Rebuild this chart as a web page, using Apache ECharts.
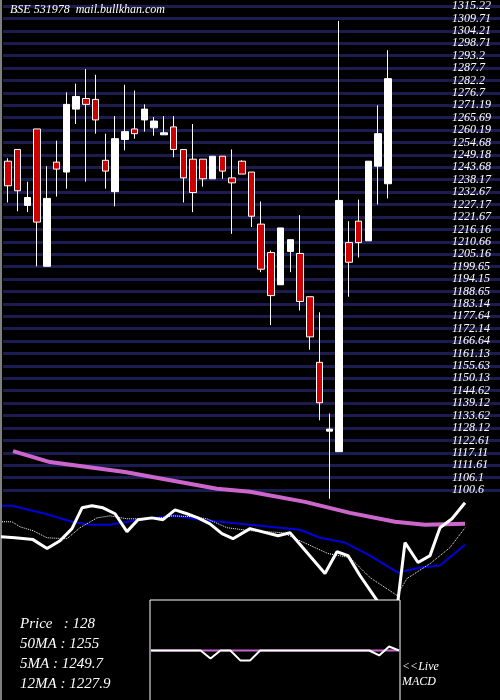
<!DOCTYPE html>
<html><head><meta charset="utf-8">
<script src="https://cdn.jsdelivr.net/npm/echarts@6/dist/echarts.min.js"></script>
<style>html,body{margin:0;padding:0;background:#000}#c{width:500px;height:700px}</style>
</head><body><div id="c"></div>
<script>
// candles: [open, close, low, high]
const candles = [
[1246.4,1235.5,1228.1,1247.7],[1251.6,1233.3,1224.2,1251.6],[1226.8,1230.3,1223.8,1237.3],
[1260.7,1219.4,1199.8,1260.7],[1199.8,1229.9,1199.8,1244.2],[1246.0,1242.9,1230.7,1255.5],
[1241.6,1271.6,1234.2,1276.9],[1269.5,1275.1,1262.9,1280.8],[1274.2,1271.6,1237.3,1287.3],
[1273.8,1264.7,1258.6,1284.7],[1246.8,1242.0,1234.2,1258.6],[1232.9,1256.4,1226.4,1266.4],
[1256.0,1259.5,1251.2,1280.3],[1260.7,1258.6,1256.4,1277.7],[1264.7,1269.5,1259.5,1271.6],
[1261.2,1264.2,1257.7,1266.0],[1258.1,1259.0,1258.1,1266.4],[1261.6,1251.6,1248.1,1266.4],
[1251.6,1239.0,1228.1,1251.6],[1247.3,1232.5,1223.8,1262.9],[1247.3,1238.6,1235.1,1247.3],
[1238.6,1248.6,1238.6,1248.6],[1248.6,1242.0,1238.6,1248.6],[1239.0,1236.8,1214.2,1251.6],
[1246.4,1240.7,1240.7,1246.8],[1241.6,1222.0,1217.2,1241.6],[1218.5,1198.5,1197.2,1228.5],
[1205.9,1186.8,1173.7,1206.8],[1191.6,1216.8,1191.6,1216.8],[1206.4,1211.6,1197.2,1211.6],
[1205.5,1184.2,1180.2,1222.5],[1186.3,1168.5,1162.8,1186.3],[1157.2,1139.3,1131.5,1179.4],
[1126.7,1127.6,1096.7,1134.5],[1117.6,1229.0,1117.6,1308.6],[1210.3,1201.6,1186.3,1219.8],
[1219.8,1210.3,1203.7,1229.4],[1211.1,1246.4,1211.1,1246.4],[1244.2,1258.6,1227.2,1271.2],
[1236.4,1283.0,1229.9,1295.6]
];
const categories = Array.from({length:51},(_,i)=>String(i+1));
const priceLine = [[-0.81,1080.6],[0.73,1080.1],[2.58,1079.3],[4.02,1075.4],[5.35,1078.8],[6.58,1084.1],[7.61,1093.2],[8.63,1094.1],[9.76,1093.2],[11.0,1090.6],[12.22,1082.8],[13.35,1088.0],[14.79,1088.8],[15.92,1088.0],[17.15,1092.3],[18.38,1090.6],[19.51,1088.8],[20.74,1086.2],[21.97,1081.9],[23.10,1079.7],[24.85,1084.1],[27.72,1081.0],[28.95,1082.3],[32.54,1064.5],[33.77,1074.0],[34.90,1072.3],[36.13,1063.6],[37.88,1052.7],[39.21,1046.2],[40.03,1052.7],[40.75,1078.0],[42.09,1069.3],[43.32,1072.3],[44.34,1084.5],[45.57,1088.4],[46.91,1095.4]];
const dottedLine = [[-0.81,1087.1],[0.42,1087.1],[1.24,1084.9],[2.58,1083.2],[4.02,1080.1],[6.07,1079.7],[7.40,1084.5],[9.15,1088.8],[10.48,1089.7],[12.22,1088.4],[13.56,1088.4],[15.61,1088.8],[16.94,1089.7],[19.0,1089.3],[20.43,1088.4],[22.49,1084.5],[24.85,1083.2],[28.23,1082.3],[29.98,1078.8],[32.85,1073.2],[35.11,1071.4],[37.16,1062.7],[39.93,1054.9],[40.96,1062.3],[43.32,1068.8],[45.37,1075.8],[46.91,1084.5]];
const blueLine = [[-0.81,1094.1],[0.42,1094.1],[3.81,1090.6],[6.58,1087.1],[8.43,1085.8],[10.48,1085.8],[14.07,1088.4],[17.15,1089.7],[19.72,1088.0],[24.85,1085.8],[29.98,1083.6],[32.03,1080.1],[34.59,1078.0],[37.16,1072.3],[40.03,1064.9],[42.29,1067.1],[44.34,1068.0],[46.91,1077.1]];
const pinkLine = [[0.53,1118.0],[4.32,1113.2],[12.02,1108.9],[21.46,1101.5],[24.85,1100.2],[30.49,1095.8],[35.11,1091.0],[39.73,1087.1],[42.8,1085.8],[46.91,1086.2]];
const macdLine = [0,0,0,0,0,0,-8,0,0,-10,-10,0,0,0,0,0,0,0,0,0,0,0,0,-5,4,0];
const macdSignal = [0,0,0,0,0,0,0,0,0,0,0,0,0,0,0,0,0,0,0,0,0,0,0,0,0,0];
const infoLines = ['Price   : 128','50MA : 1255','5MA : 1249.7','12MA : 1227.9'];

const serif = "'Liberation Serif','DejaVu Serif',serif";
const fmt = v => String(+v.toFixed(2));
const chart = echarts.init(document.getElementById('c'));
chart.setOption({
  backgroundColor:'#000',
  animation:false,
  grid:[
    {left:3,right:0,top:-3,bottom:210},
    {left:3,right:0,top:-3,bottom:0},
    {left:151,width:248,top:601,height:99}
  ],
  xAxis:[
    {type:'category',data:categories,gridIndex:0,show:false,boundaryGap:true},
    {type:'value',gridIndex:1,min:-0.5,max:50.5,show:false},
    {type:'category',gridIndex:2,data:macdLine.map((_,i)=>i),show:false,boundaryGap:false}
  ],
  yAxis:[
    {type:'value',gridIndex:0,position:'right',min:1100.6,max:1315.217,interval:5.503,
     axisLine:{show:false},axisTick:{show:false},
     splitLine:{show:true,lineStyle:{color:'#1c1c50',width:3}},
     axisLabel:{inside:true,align:'left',margin:48,color:'#fff',fontFamily:serif,fontStyle:'italic',fontSize:12,formatter:fmt,showMaxLabel:true}},
    {type:'value',gridIndex:1,min:1009.18,max:1315.217,show:false},
    {type:'value',gridIndex:2,min:-50,max:50,show:false}
  ],
  series:[
    {type:'candlestick',xAxisIndex:0,yAxisIndex:0,data:candles,barWidth:7,
     itemStyle:{color:'#fff',color0:'#cc0000',borderColor:'#fff',borderColor0:'#fff',borderWidth:1}},
    {type:'line',xAxisIndex:1,yAxisIndex:1,data:pinkLine,symbol:'none',clip:false,lineStyle:{color:'#cc66cc',width:4}},
    {type:'line',xAxisIndex:1,yAxisIndex:1,data:blueLine,symbol:'none',clip:false,lineStyle:{color:'#0000dd',width:2}},
    {type:'line',xAxisIndex:1,yAxisIndex:1,data:dottedLine,symbol:'none',clip:false,lineStyle:{color:'#fff',width:1,type:'dotted'}},
    {type:'line',xAxisIndex:1,yAxisIndex:1,data:priceLine,symbol:'none',clip:false,lineStyle:{color:'#fff',width:3}},
    {type:'line',xAxisIndex:2,yAxisIndex:2,data:macdSignal,symbol:'none',z:20,lineStyle:{color:'#cc66cc',width:2}},
    {type:'line',xAxisIndex:2,yAxisIndex:2,data:macdLine,symbol:'none',z:21,lineStyle:{color:'#fff',width:2}}
  ],
  graphic:[
    {type:'rect',z:10,shape:{x:150,y:600,width:250,height:101},style:{fill:'#000',stroke:'#fff',lineWidth:1}},
    {type:'line',z:10,shape:{x1:1,y1:0,x2:1,y2:700},style:{stroke:'#fff',lineWidth:1}},
    {type:'text',z:30,left:10,top:4,style:{text:'BSE 531978  mail.bullkhan.com',fill:'#fff',font:"italic 12px "+serif}},
    ...infoLines.map((t,i)=>({type:'text',z:30,left:20,top:617+i*20,style:{text:t,fill:'#fff',font:"italic 15px "+serif}})),
    {type:'text',z:30,left:402,top:659,style:{text:'<<Live\nMACD',fill:'#fff',lineHeight:15,font:"italic 12px "+serif}}
  ]
});
</script></body></html>
